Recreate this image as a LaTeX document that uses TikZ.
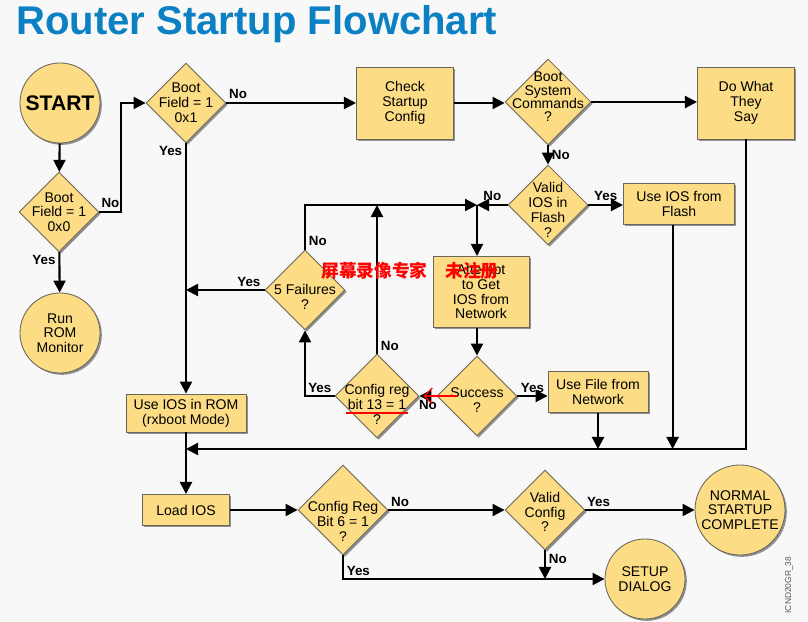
\documentclass[tikz,border=0pt]{standalone}
\usepackage{fontspec}
\setmainfont{Liberation Sans}
\newfontfamily\cjk{Noto Sans CJK SC}
\usetikzlibrary{arrows.meta, positioning, shapes.geometric, shadows}
\definecolor{boxfill}{HTML}{FCDC84}
\definecolor{boxstroke}{HTML}{6A665C}
\definecolor{titleblue}{HTML}{0B80C3}
\definecolor{pagebg}{HTML}{F8F8F8}

\begin{document}
\begin{tikzpicture}[
    x=0.025cm, y=-0.025cm,
    every node/.style={font=\fontsize{10}{10.5}\selectfont},
    shade/.style={drop shadow={shadow xshift=1.3pt, shadow yshift=-1.3pt, opacity=0.6, fill=black!70}},
    proc/.style={rectangle, draw=boxstroke, line width=0.6pt, fill=boxfill, align=center, inner sep=0pt, shade},
    decision/.style={diamond, draw=boxstroke, line width=0.6pt, fill=boxfill, inner sep=0pt, minimum width=#1, minimum height=#1, shade},
    dtext/.style={align=center},
    term/.style={circle, draw=boxstroke, line width=0.6pt, fill=boxfill, align=center, inner sep=0pt, minimum size=#1, shade},
    arr/.style={-{Triangle[length=3mm, width=3mm]}, line width=1.5pt},
    lbl/.style={font=\fontsize{9.5}{10}\selectfont\bfseries, inner sep=2pt},
    redmark/.style={red, line width=0.9pt}
]
\fill[pagebg] (0,0) rectangle (808,622);
\useasboundingbox (0,0) rectangle (808,622);

\node[font=\fontsize{28.5}{30}\selectfont\bfseries, text=titleblue, anchor=base west, inner sep=0pt] (title) at (16,35) {Router Startup Flowchart};

% left column
\node[term=2cm, font=\fontsize{15}{16}\selectfont\bfseries] (start) at (60,103) {START};
\node[decision=2cm, label={[dtext]center:{Boot\\Field = 1\\0x0}}] (bf0) at (59,212) {};
\node[term=2cm] (rom) at (60,333) {Run\\ROM\\Monitor};

% top row
\node[decision=2cm, label={[dtext]center:{Boot\\Field = 1\\0x1}}] (bf1) at (186,103) {};
\node[proc, minimum width=2.43cm, minimum height=1.8cm] (chk) at (405,103) {Check\\Startup\\Config};
\node[decision=2.15cm, label={[dtext, yshift=3.5pt, font=\fontsize{10}{9.5}\selectfont]center:{Boot\\System\\Commands\\?}}] (bsc) at (548,102) {};
\node[proc, minimum width=2.43cm, minimum height=1.8cm] (dowhat) at (746,103) {Do What\\They\\Say};

% network loop
\node[decision=2cm, label={[dtext, yshift=-3.5pt]center:{Valid\\IOS in\\Flash\\?}}] (vif) at (548,205) {};
\node[proc, minimum width=2.78cm, minimum height=1.03cm] (useflash) at (679,204) {Use IOS from\\Flash};
\node[decision=2cm, label={[dtext, yshift=-5pt]center:{5 Failures\\?}}] (fail5) at (305,290) {};
\node[proc, minimum width=2.4cm, minimum height=1.78cm] (attempt) at (481,292) {Attempt\\to Get\\IOS from\\Network};
\node[decision=2cm, label={[dtext, yshift=-3pt]center:{Success\\?}}] (succ) at (477,396) {};
\node[decision=2.1cm, label={[dtext, yshift=-6pt]center:{Config reg\\bit 13 = 1\\?}}] (cr13) at (377,396) {};
\node[proc, minimum width=2.5cm, minimum height=1.03cm] (usefile) at (598,392) {Use File from\\Network};
\node[proc, minimum width=3cm, minimum height=0.95cm] (userom) at (186,413) {Use IOS in ROM\\(rxboot Mode)};
\coordinate (jn) at (succ.north |- vif.west);

% bottom row
\node[proc, minimum width=2.18cm, minimum height=0.78cm] (loadios) at (186,510) {Load IOS};
\node[decision=2.25cm, label={[dtext, yshift=-8pt]center:{Config Reg\\Bit 6 = 1\\?}}] (cr6) at (343,510) {};
\node[decision=2cm, label={[dtext, yshift=-1.5pt]center:{Valid\\Config\\?}}] (vconf) at (545,510) {};
\node[term=2.25cm] (normal) at (740,510) {NORMAL\\STARTUP\\COMPLETE};
\node[term=2cm] (setup) at (645,579) {SETUP\\DIALOG};

\draw[arr] (start) -- (bf0);
\draw[arr] (bf0) -- node[lbl, left, pos=0.2] {Yes} (rom);
\draw[arr] (bf0.east) -- node[lbl, above] {No} ++(22,0) |- (bf1.west);
\draw[arr] (bf1.east) -- node[lbl, above, pos=0.09] {No} (chk.west);
\draw[arr] (bf1.south) -- node[lbl, left, pos=0.03] {Yes} (userom.north);
\draw[arr] (chk.east) -- (chk.east -| bsc.west);
\draw[arr] (bsc.east) -- (bsc.east -| dowhat.west);
\draw[arr] (bsc.south) -- node[lbl, right] {No} (vif.north);
\draw[arr] (vif.east) -- node[lbl, above] {Yes} (vif.east -| useflash.west);

% retry loop
\draw[arr] (vif.west) -- node[lbl, above] {No} (jn);
\draw[arr] (fail5.north) |- node[lbl, right, pos=0.1] {No} (jn);
\draw[arr] (jn) -- (jn |- attempt.north);
\draw[arr] (jn |- attempt.south) -- (succ.north);
\draw[arr] (succ.west) -- node[lbl, below] {No} (cr13.east);
\draw[arr] (cr13.north) -- node[lbl, right, pos=0.05] {No} (cr13.north |- jn);
\draw[arr] (cr13.west) -| node[lbl, above, pos=0.25] {Yes} (fail5.south);
\draw[arr] (fail5.west) -- node[lbl, above, pos=0.2] {Yes} (fail5.west -| bf1.south);
\draw[arr] (succ.east) -- node[lbl, above] {Yes} (succ.east -| usefile.west);

% collector line
\coordinate (busE) at (dowhat.south |- 0,449);
\coordinate (flashout) at ([xshift=-0.16cm]useflash.south);
\draw[arr] (dowhat.south) |- (userom.south |- busE);
\draw[arr] (flashout) -- (flashout |- busE);
\draw[arr] (usefile.south) -- (usefile.south |- busE);
\draw[arr] (userom.south) -- (loadios.north);

\draw[arr] (loadios.east) -- (cr6.west);
\draw[arr] (cr6.east) -- node[lbl, above, pos=0.1] {No} (vconf.west);
\draw[arr] (vconf.east) -- node[lbl, above, pos=0.12] {Yes} (normal.west);
\draw[arr] (vconf.south) -- node[lbl, right, pos=0.3] {No} (vconf.south |- setup.west);
\draw[arr] (cr6.south) |- node[lbl, above right, pos=0.5] {Yes} (setup.west);

\node[rotate=90, font=\fontsize{6}{6}\selectfont, text=black!65] (code) at (789,585) {ICND20GR\_38};

% screen recorder marks
\node[font=\cjk\bfseries\fontsize{12.6}{13}\selectfont, text=red, anchor=west, inner sep=0pt] (wm) at (321,271) {屏幕录像专家　未注册};
\draw[redmark] (cr13.center) ++(-31,17) -- ++(62,0);
\draw[redmark, -{Straight Barb[length=2mm, width=4mm]}] (cr13.east) ++(38,0) -- ++(-34,0);
\end{tikzpicture}
\end{document}
